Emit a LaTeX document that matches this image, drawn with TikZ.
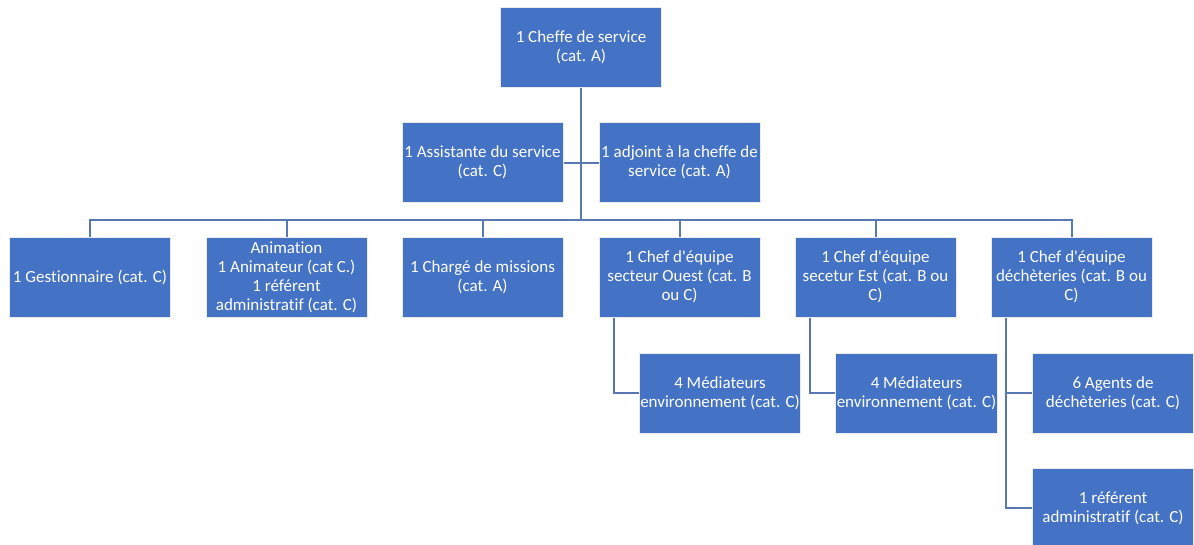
\documentclass[tikz,border=0pt]{standalone}
\usepackage{fontspec}
\setmainfont{Carlito}[Ligatures={TeXOff,NoCommon}]
\definecolor{boxblue}{HTML}{4472C4}
\definecolor{linkblue}{RGB}{88,120,180}
\begin{document}
\begin{tikzpicture}[x=1pt,y=-1pt,
  orgbox/.style={draw=white!92!black, line width=1pt, fill=boxblue, text=white,
    minimum width=161pt, minimum height=80pt, inner sep=1pt, align=center,
    font=\fontsize{17}{19}\selectfont},
  link/.style={draw=linkblue, line width=2pt}]
\useasboundingbox (0,0) rectangle (1194,544);
\fill[white] (0,0) rectangle (1194,544);

\node[orgbox] (top) at (581,47) {1 Cheffe de service\\(cat. A)};
\node[orgbox] (ast) at (482.5,162.5) {1 Assistante du service\\(cat. C)};
\node[orgbox] (adj) at (679.5,162.5) {1 adjoint à la cheffe de\\service (cat. A)};

\node[orgbox] (ges) at (90,277) {1 Gestionnaire (cat. C)};
\node[orgbox] (ani) at (286.5,277) {Animation\\1 Animateur (cat C.)\\1 référent\\administratif (cat. C)};
\node[orgbox] (cha) at (482.5,277) {1 Chargé de missions\\(cat. A)};
\node[orgbox] (oue) at (679.5,277) {1 Chef d'équipe\\secteur Ouest (cat. B\\ou C)};
\node[orgbox] (est) at (875.5,277) {1 Chef d'équipe\\secetur Est (cat. B ou\\C)};
\node[orgbox] (dec) at (1071.5,277) {1 Chef d'équipe\\déchèteries (cat. B ou\\C)};

\node[orgbox] (med1) at (720,393) {4 Médiateurs\\environnement (cat. C)};
\node[orgbox] (med2) at (916.5,393) {4 Médiateurs\\environnement (cat. C)};
\node[orgbox] (agt) at (1113,393) {6 Agents de\\déchèteries (cat. C)};
\node[orgbox] (ref) at (1113,508) {1 référent\\administratif (cat. C)};

\coordinate (bus) at (581,220);
\coordinate (o1) at ([xshift=15pt]oue.south west);
\coordinate (e1) at ([xshift=15pt]est.south west);
\coordinate (d1) at ([xshift=15pt]dec.south west);

\draw[link] (top.south) -- (bus);
\draw[link] (ast.east) -- (adj.west);
\foreach \c in {ges,ani,cha,oue,est,dec}{
  \draw[link] (bus) -| (\c.north);
}
\draw[link] (o1) |- (med1.west);
\draw[link] (e1) |- (med2.west);
\draw[link] (d1) |- (agt.west);
\draw[link] (d1) |- (ref.west);
\end{tikzpicture}
\end{document}
